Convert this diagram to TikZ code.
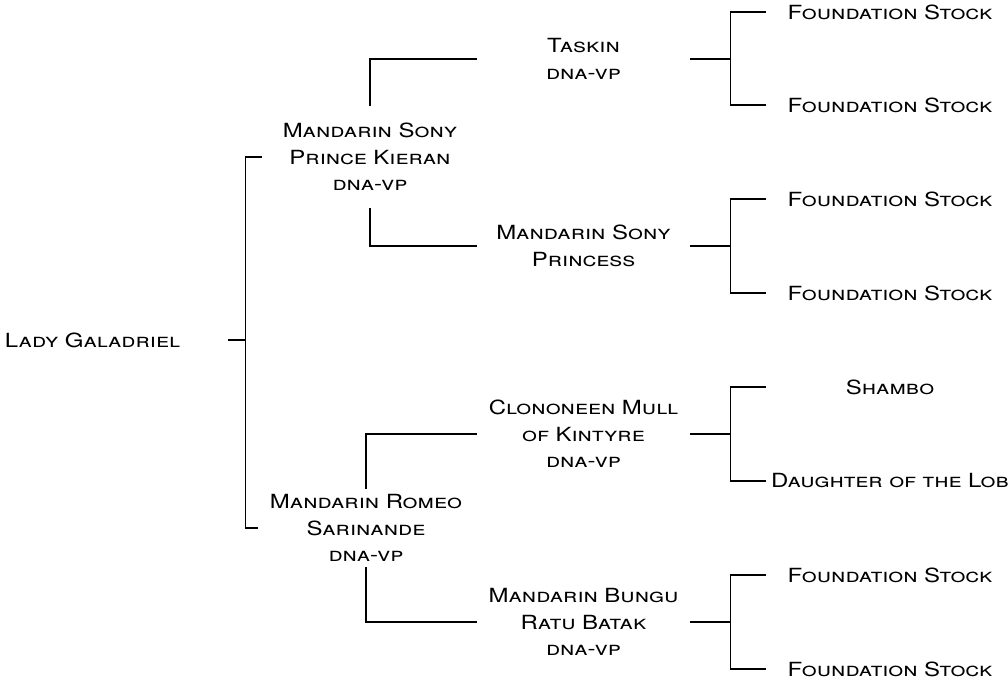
\documentclass[tikz,border=0pt]{standalone}
\usepackage{fontspec}
\setmainfont{TeX Gyre Heros}[FakeStretch=1.23]
\usetikzlibrary{calc, positioning}
\tikzset{
x=1pt, y=-1pt,
horse/.style={
	inner sep=0pt,
	outer ysep=5pt,
	align=center,
	font=\fontsize{19.5}{26.5}\selectfont\scshape,
},
col1/.style={
	horse,
	text width=223pt,
	align=left,
},
col2/.style={
	horse,
	text width=216pt,
},
col3/.style={
	horse,
	text width=213pt,
},
col4/.style={
	horse,
	text width=248pt,
},
link/.style={
	line width=1.1pt,
}
}

\begin{document}
\begin{tikzpicture}
		\useasboundingbox (0,0) rectangle (1008,682);
		% Generation 0
		\node[col1] (lady) at (116.5,340) {Lady Galadriel};
		% Generation 1
		\node[col2, outer ysep=17pt] (sony) at (370,157) {Mandarin Sony\\Prince Kieran\\dna-vp};
		\node[col2] (romeo) at (366,528) {Mandarin Romeo\\Sarinande\\dna-vp};
		% Generation 2
		\node[col3] (taskin) at (583.5,59) {Taskin\\dna-vp};
		\node[col3] (princess) at (583.5,246) {Mandarin Sony\\Princess};
		\node[col3] (kintyre) at (583.5,434) {Clononeen Mull\\of Kintyre\\dna-vp};
		\node[col3] (bungu) at (583.5,622) {Mandarin Bungu\\Ratu Batak\\dna-vp};
		% Generation 3
		\node[col4] (fs1) at (890,12) {Foundation Stock};
		\node[col4] (fs2) at (890,105) {Foundation Stock};
		\node[col4] (fs3) at (890,199) {Foundation Stock};
		\node[col4] (fs4) at (890,293) {Foundation Stock};
		\node[col4] (shambo) at (890,387) {Shambo};
		\node[col4] (lob) at (890,481) {Daughter of the Lob};
		\node[col4] (fs5) at (890,575) {Foundation Stock};
		\node[col4] (fs6) at (890,669) {Foundation Stock};
		
		% Connections
		
		% lady ->
		\draw[link] (lady.east) -- ++(17,0) coordinate (j0);
		\draw[link] (sony.west) -| (j0) |- (romeo.west);
		
		% sony ->
		\draw[link] (taskin.west) -| (sony.north);
		\draw[link] (princess.west) -| (sony.south);
		
		% romeo ->
		\draw[link] (kintyre.west) -| (romeo.north);
		\draw[link] (bungu.west) -| (romeo.south);
		
		% taskin ->
		\draw[link] (taskin.east) -- ++(40,0) coordinate (j1);
		\draw[link] (fs1.west) -| (j1) |- (fs2.west);
		
		% princess ->
		\draw[link] (princess.east) -- ++(40,0) coordinate (j2);
		\draw[link] (fs3.west) -| (j2) |- (fs4.west);
		
		% kintyre ->
		\draw[link] (kintyre.east) -- ++(40,0) coordinate (j3);
		\draw[link] (shambo.west) -| (j3) |- (lob.west);
		
		% bungu ->
		\draw[link] (bungu.east) -- ++(40,0) coordinate (j4);
		\draw[link] (fs5.west) -| (j4) |- (fs6.west);
	\end{tikzpicture}
\end{document}
